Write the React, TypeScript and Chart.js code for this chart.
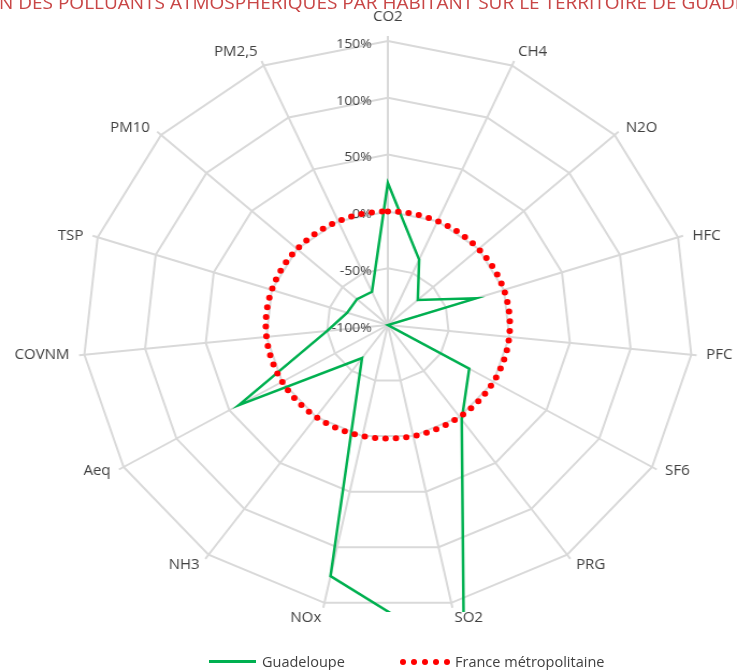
import React, { useEffect, useRef } from 'react';
import { Chart, registerables } from 'chart.js';

Chart.register(...registerables);

// ---- data ----
const categories = ['CO2', 'CH4', 'N2O', 'HFC', 'PFC', 'SF6', 'PRG', 'SO2', 'NOx', 'NH3', 'Aeq', 'COVNM', 'TSP', 'PM10', 'PM2,5'];
const guadeloupe = [25, -37, -67, -24, -100, -23, 3, 200, 126, -64, 41, -50, -65, -66, -68];
const franceMetropolitaine = [0, 0, 0, 0, 0, 0, 0, 0, 0, 0, 0, 0, 0, 0, 0];
const seriesNames = ['Guadeloupe', 'France métropolitaine'];
const scaleMin = -100;
const scaleMax = 150;
const scaleStep = 50;
const titleHidden = 'COMPARAISO';
const titleVisible = 'N DES POLLUANTS ATMOSPHERIQUES PAR HABITANT SUR LE TERRITOIRE DE GUADELOUPE';

// ---- styles ----
const GREEN = '#00B050';
const RED = '#FF0000';
const GRID = '#D9D9D9';
const TEXT = '#404040';
const FONT = '"Open Sans", "Liberation Sans", sans-serif';
const CANVAS_W = 686;
const CANVAS_H = 670;
const DISPLAY_W = 737;

const excelLabels = {
  id: 'excelLabels',
  beforeDatasetsDraw(chart: any) {
    const scale = chart.scales.r;
    const ctx = chart.ctx;
    const labels: string[] = chart.data.labels;
    ctx.save();
    // small tick marks beyond outer ring
    ctx.strokeStyle = GRID;
    ctx.lineWidth = 2;
    labels.forEach((_l, i) => {
      const a = scale.getPointPosition(i, scale.drawingArea);
      const b = scale.getPointPosition(i, scale.drawingArea + 5);
      ctx.beginPath();
      ctx.moveTo(a.x, a.y);
      ctx.lineTo(b.x, b.y);
      ctx.stroke();
    });
    // radial tick labels
    ctx.fillStyle = TEXT;
    ctx.font = `13px ${FONT}`;
    ctx.textAlign = 'right';
    ctx.textBaseline = 'middle';
    scale.ticks.forEach((t: any) => {
      const d = scale.getDistanceFromCenterForValue(t.value);
      ctx.fillText(`${t.value}%`, scale.xCenter - 15, scale.yCenter - d + 3);
    });
    // point labels
    ctx.font = `14px ${FONT}`;
    labels.forEach((lab, i) => {
      const p = scale.getPointPosition(i, scale.drawingArea);
      const ang = scale.getIndexAngle(i);
      const sin = Math.sin(ang);
      const cos = Math.cos(ang);
      const x = p.x + sin * 14;
      let y = p.y - cos * Math.abs(cos) * 16;
      if (cos > 0.99) y -= 8;
      ctx.textAlign = Math.abs(sin) < 0.1 ? 'center' : sin > 0 ? 'left' : 'right';
      ctx.fillText(lab, x, y);
    });
    ctx.restore();
  },
};

export default function App() {
  const ref = useRef<HTMLCanvasElement | null>(null);

  useEffect(() => {
    if (!ref.current) return;
    const chart = new Chart(ref.current, {
      type: 'radar',
      data: {
        labels: categories,
        datasets: [
          {
            label: seriesNames[0],
            data: guadeloupe,
            borderColor: GREEN,
            backgroundColor: GREEN,
            borderWidth: 2.5,
            pointRadius: 0,
            fill: false,
            tension: 0,
            order: 1,
            clip: { left: false, right: false, top: false, bottom: 3 } as any,
          },
          {
            label: seriesNames[1],
            data: franceMetropolitaine,
            borderColor: RED,
            backgroundColor: RED,
            borderWidth: 6,
            borderDash: [0, 9.7],
            borderCapStyle: 'round',
            pointRadius: 0,
            fill: false,
            tension: 0.345,
            order: 0,
          },
        ],
      },
      options: {
        responsive: false,
        devicePixelRatio: 1,
        animation: false,
        layout: { padding: { left: 77, right: 41, top: 41, bottom: 61 } },
        plugins: {
          legend: { display: false },
          tooltip: { enabled: false },
          title: { display: false },
        },
        scales: {
          r: {
            min: scaleMin,
            max: scaleMax,
            ticks: { stepSize: scaleStep, display: false },
            grid: { color: GRID, lineWidth: 2, circular: false },
            angleLines: { color: GRID, lineWidth: 2 },
            pointLabels: { display: false },
          },
        },
      },
      plugins: [excelLabels],
    });
    return () => chart.destroy();
  }, []);

  return (
    <div style={{ position: 'absolute', left: 0, top: 0, width: DISPLAY_W, height: CANVAS_H, overflow: 'hidden', background: '#fff' }}>
      <canvas
        ref={ref}
        width={CANVAS_W}
        height={CANVAS_H}
        style={{ position: 'absolute', left: 0, top: 0, width: DISPLAY_W, height: CANVAS_H }}
      />
      <div
        style={{
          position: 'absolute',
          left: -1,
          top: -10,
          whiteSpace: 'nowrap',
          font: `19px/24px ${FONT}`,
          color: '#C84646',
        }}
      >
        <span style={{ position: 'absolute', right: '100%', top: 0 }}>{titleHidden}</span>
        <span>{titleVisible}</span>
      </div>
      <div style={{ position: 'absolute', left: 209, top: 660, width: 47, height: 3, background: GREEN }} />
      <div style={{ position: 'absolute', left: 262, top: 652, font: `14.5px/20px ${FONT}`, color: TEXT, whiteSpace: 'nowrap' }}>
        {seriesNames[0]}
      </div>
      {[0, 1, 2, 3, 4].map((k) => (
        <div
          key={k}
          style={{
            position: 'absolute',
            left: 400 + k * 11,
            top: 659,
            width: 6,
            height: 6,
            borderRadius: 3,
            background: RED,
          }}
        />
      ))}
      <div style={{ position: 'absolute', left: 455, top: 652, font: `14.5px/20px ${FONT}`, color: TEXT, whiteSpace: 'nowrap' }}>
        {seriesNames[1]}
      </div>
    </div>
  );
}
